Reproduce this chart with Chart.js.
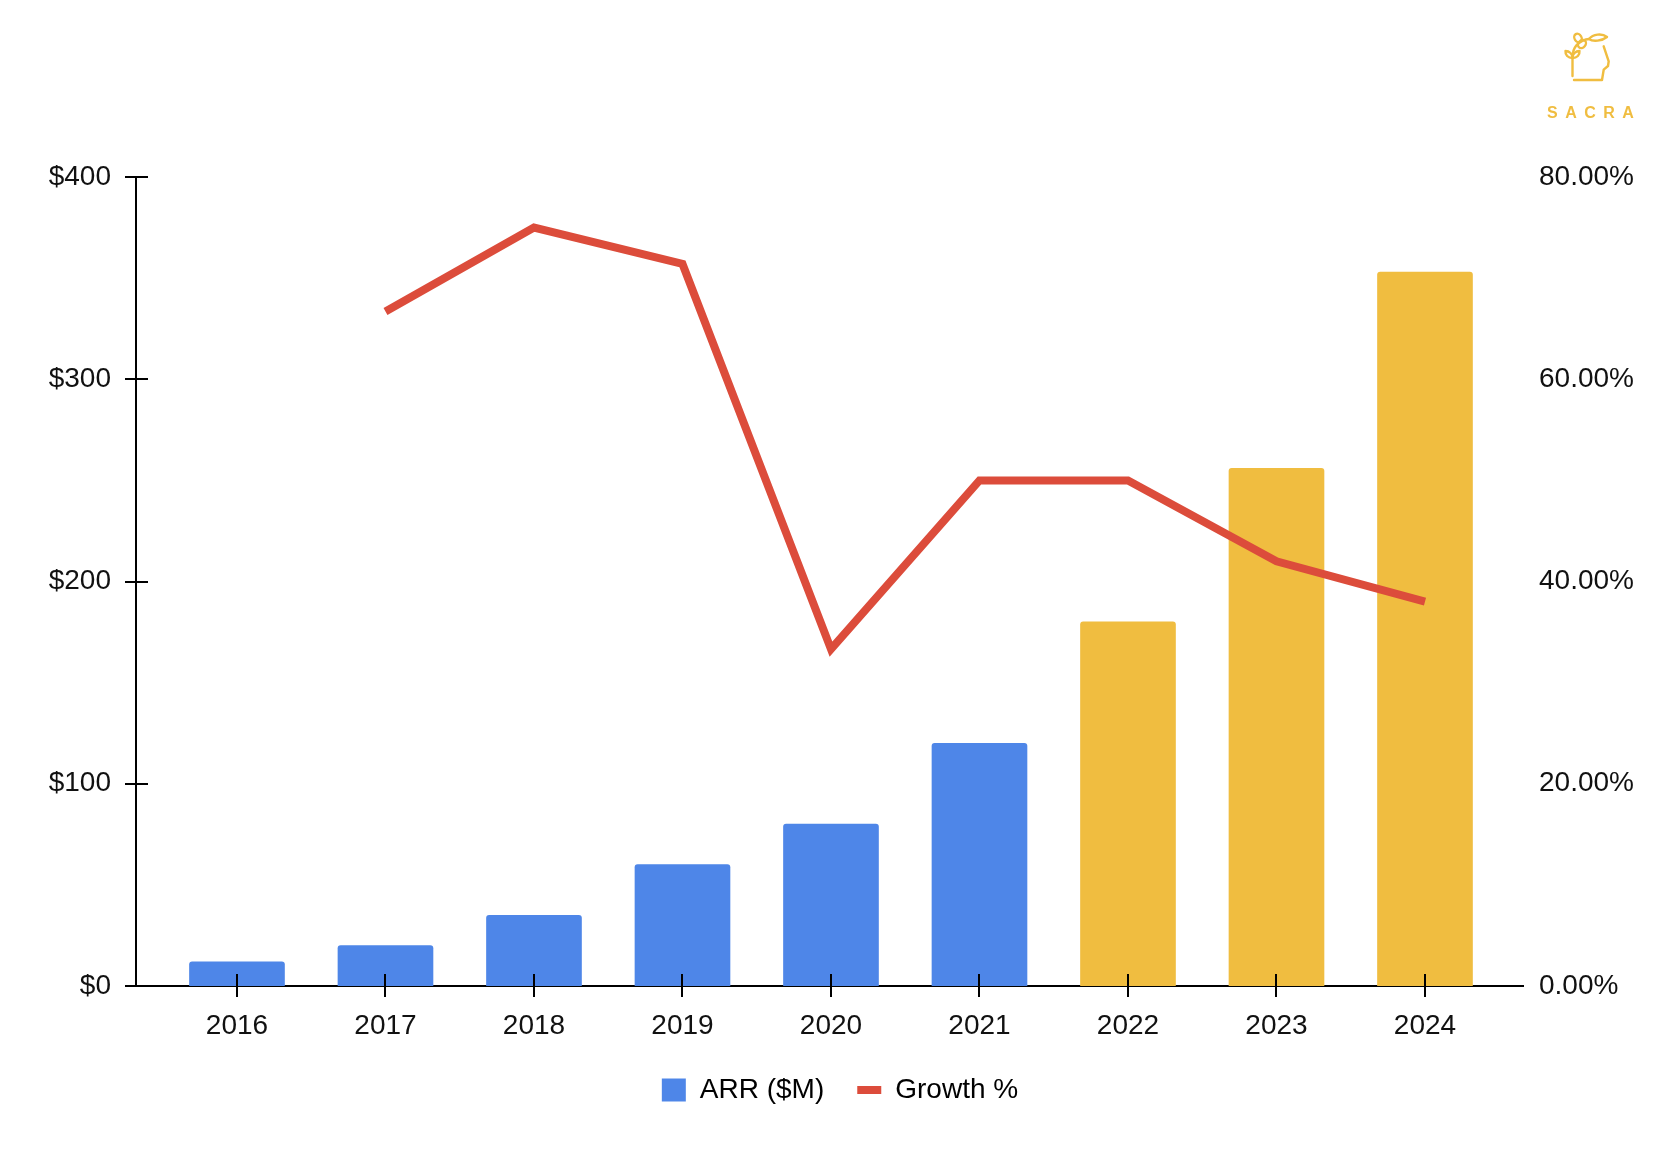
<!DOCTYPE html>
<html>
<head>
<meta charset="utf-8">
<script src="https://cdn.jsdelivr.net/npm/chart.js@4.4.1/dist/chart.umd.min.js"></script>
<style>
    html, body { margin: 0; padding: 0; background: #fff; }
    #wrap { position: relative; width: 1664px; height: 1162px; }
    #logo { position: absolute; left: 1540px; top: 28px; width: 100px; text-align: center; }
    #logo span { display: block; font-family: "Liberation Sans", Arial, sans-serif; font-weight: bold;
        font-size: 16px; letter-spacing: 7.5px; margin-left: 7px; color: #f0bd40; margin-top: 18px; }
</style>
</head>
<body>
<div id="wrap">
    <canvas id="arr-chart" width="1664" height="1162"></canvas>
    <div id="logo">
        <svg width="56" height="58" viewBox="0 0 56 58" style="display:block;margin:0 auto 0 22px" fill="none" stroke="#f0bd40" stroke-width="2.4" stroke-linecap="round" stroke-linejoin="round">
            <path d="M12 52 L40 52 L41.7 41.7 L46 38 L46.7 33.3 L41.7 18.3"/>
            <path d="M10.5 48 L10.5 27"/>
            <path d="M10.5 30 C6 30 3 27 3.5 23 C7.5 23 10.5 26 10.5 30 Z"/>
            <path d="M10.5 30 C15 30 18 27 17.5 23 C13.5 23 10.5 26 10.5 30 Z"/>
            <path d="M11 25 C12 18 18 12 27 11"/>
            <path d="M27 11 C31 6 40 5 45 9 C40 13 31 14 27 11 Z"/>
            <ellipse cx="16" cy="10" rx="3.5" ry="4.5" transform="rotate(-30 16 10)"/>
            <ellipse cx="20" cy="16" rx="3.5" ry="4.5" transform="rotate(40 20 16)"/>
        </svg>
        <span>SACRA</span>
    </div>
</div>
<script>
const years = [2016, 2017, 2018, 2019, 2020, 2021, 2022, 2023, 2024];
const arrValues = [12, 20, 35, 60, 80, 120, 180, 256, 353];
const growthValues = [null, 66.7, 75.0, 71.4, 33.3, 50.0, 50.0, 42.0, 38.0];
const arrTicks = [0, 100, 200, 300, 400];
const growthTicks = [0, 20, 40, 60, 80];
const projectedFrom = 2022;

const BLUE = "#4e86e8";
const YELLOW = "#f0bd40";
const RED = "#dc4c3b";
const FONT = "'Liberation Sans', Arial, sans-serif";
const FONT_SIZE = 28;

// petits traits d'axe qui traversent la ligne, comme dans Google Sheets
const crossTicks = {
    id: "crossTicks",
    afterDatasetsDraw(chart) {
        const { ctx, scales } = chart;
        const bottom = scales.x.bottom - scales.x.height;
        const left = scales.y.right;
        ctx.save();
        ctx.strokeStyle = "#000";
        ctx.lineWidth = 2;
        ctx.beginPath();
        scales.x.ticks.forEach(t => {
            const px = Math.round(scales.x.getPixelForValue(t.value));
            ctx.moveTo(px, bottom - 12);
            ctx.lineTo(px, bottom + 11);
        });
        scales.y.ticks.forEach(t => {
            const py = Math.round(scales.y.getPixelForValue(t.value));
            ctx.moveTo(left - 11, py);
            ctx.lineTo(left + 12, py);
        });
        ctx.stroke();
        ctx.restore();
    }
};

const ctx = document.getElementById("arr-chart").getContext("2d");

new Chart(ctx, {
    data: {
        datasets: [
            {
                type: "bar",
                label: "ARR ($M)",
                data: years.map((yr, i) => ({ x: yr, y: arrValues[i] })),
                backgroundColor: years.map(yr => yr >= projectedFrom ? YELLOW : BLUE),
                barThickness: 95,
                borderRadius: { topLeft: 3, topRight: 3 },
                borderSkipped: "start",
                yAxisID: "y",
                order: 1,
            },
            {
                type: "line",
                label: "Growth %",
                data: years.map((yr, i) => ({ x: yr, y: growthValues[i] })).filter(p => p.y !== null),
                borderColor: RED,
                borderWidth: 8,
                borderCapStyle: "butt",
                borderJoinStyle: "miter",
                pointRadius: 0,
                tension: 0,
                yAxisID: "y1",
                order: 0,
            },
        ],
    },
    options: {
        responsive: false,
        animation: false,
        layout: {
            padding: { top: 177, left: 16, right: 0, bottom: 48 },
        },
        plugins: {
            tooltip: { enabled: false },
            legend: {
                display: true,
                position: "bottom",
                labels: {
                    usePointStyle: true,
                    pointStyleWidth: 24,
                    boxHeight: 23,
                    padding: 33,
                    color: "#111",
                    font: { family: FONT, size: FONT_SIZE },
                    generateLabels: () => [
                        { text: "ARR ($M)", fillStyle: BLUE, strokeStyle: BLUE, lineWidth: 0, pointStyle: "rect", datasetIndex: 0 },
                        { text: "Growth %", fillStyle: RED, strokeStyle: RED, lineWidth: 8, pointStyle: "line", datasetIndex: 1 },
                    ],
                },
            },
        },
        scales: {
            x: {
                type: "linear",
                offset: false,
                min: years[0] - 0.68,
                max: years[years.length - 1] + 0.66,
                afterBuildTicks: scale => {
                    scale.ticks = years.map(yr => ({ value: yr }));
                },
                afterFit: scale => { scale.height = 57; },
                grid: { display: false, offset: false },
                border: { display: true, color: "#000", width: 2 },
                ticks: {
                    padding: 15,
                    color: "#111",
                    font: { family: FONT, size: FONT_SIZE },
                    callback: v => String(v),
                },
            },
            y: {
                position: "left",
                min: arrTicks[0],
                max: arrTicks[arrTicks.length - 1],
                afterBuildTicks: scale => {
                    scale.ticks = arrTicks.map(v => ({ value: v }));
                },
                afterFit: scale => { scale.width = 120; },
                grid: { display: false },
                border: { display: true, color: "#000", width: 2 },
                ticks: {
                    padding: 17,
                    color: "#111",
                    font: { family: FONT, size: FONT_SIZE },
                    callback: v => "$" + v,
                },
            },
            y1: {
                position: "right",
                min: growthTicks[0],
                max: growthTicks[growthTicks.length - 1],
                afterBuildTicks: scale => {
                    scale.ticks = growthTicks.map(v => ({ value: v }));
                },
                afterFit: scale => { scale.width = 141; },
                grid: { display: false },
                border: { display: false },
                ticks: {
                    padding: 8,
                    color: "#111",
                    font: { family: FONT, size: FONT_SIZE },
                    callback: v => v.toFixed(2) + "%",
                },
            },
        },
    },
    plugins: [crossTicks],
});
</script>
</body>
</html>
